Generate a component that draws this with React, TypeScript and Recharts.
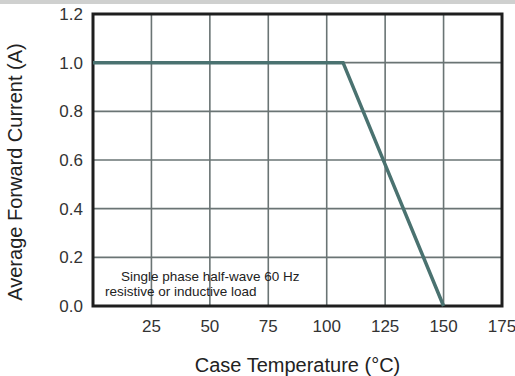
import { LineChart, Line, XAxis, YAxis, CartesianGrid, ReferenceArea } from "recharts";

// derating curve: case temperature (°C) vs average forward current (A)
const temps = [0, 107, 150];
const current = [1.0, 1.0, 0.0];

const xTicks = [25, 50, 75, 100, 125, 150, 175];
const yTicks = [0, 0.2, 0.4, 0.6, 0.8, 1.0, 1.2];

const noteLines = ["Single phase half-wave 60 Hz", "resistive or inductive load"];

const data = temps.map((t, i) => ({ temp: t, amps: current[i] }));

const font = "'Liberation Sans', Arial, sans-serif";

export default function App() {
  return (
    <div
      style={{
        position: "absolute",
        left: 0,
        top: 0,
        width: 515,
        height: 376,
        background: "#fff",
        fontFamily: font,
      }}
    >
      <div style={{ position: "absolute", left: 0, top: 0, width: 515, height: 4, background: "#cfd0cf" }} />

      <LineChart
        width={515}
        height={376}
        data={data}
        margin={{ top: 14, right: 13, bottom: 6, left: 33 }}
      >
        <CartesianGrid stroke="#6a7474" strokeWidth={1.6} />
        <XAxis
          dataKey="temp"
          type="number"
          domain={[0, 175]}
          ticks={xTicks}
          axisLine={false}
          tickLine={false}
          tickMargin={8}
          height={64}
          tick={{ fill: "#333", fontSize: 17, fontFamily: font }}
          label={{
            value: "Case Temperature (°C)",
            position: "insideBottom",
            offset: -2,
            fill: "#222",
            fontSize: 20,
            fontFamily: font,
          }}
        />
        <YAxis
          type="number"
          domain={[0, 1.2]}
          ticks={yTicks}
          width={60}
          axisLine={false}
          tickLine={false}
          tickMargin={4}
          tickFormatter={(v: number) => v.toFixed(1)}
          tick={{ fill: "#333", fontSize: 17, fontFamily: font }}
        />
        <ReferenceArea x1={0} x2={175} y1={0} y2={1.2} fill="none" stroke="#1e1e1e" strokeWidth={3} />
        <Line
          type="linear"
          dataKey="amps"
          stroke="#4a7270"
          strokeWidth={3.5}
          dot={false}
          isAnimationActive={false}
        />
      </LineChart>

      <div
        style={{
          position: "absolute",
          left: 15,
          top: 172,
          transform: "translate(-50%, -50%) rotate(-90deg)",
          whiteSpace: "nowrap",
          fontSize: 20,
          color: "#222",
          fontFamily: font,
        }}
      >
        Average Forward Current (A)
      </div>

      <div
        style={{
          position: "absolute",
          left: 105,
          top: 269,
          fontSize: 13.5,
          lineHeight: "15px",
          color: "#222",
          fontFamily: font,
        }}
      >
        <div style={{ paddingLeft: 16 }}>{noteLines[0]}</div>
        <div>{noteLines[1]}</div>
      </div>
    </div>
  );
}
